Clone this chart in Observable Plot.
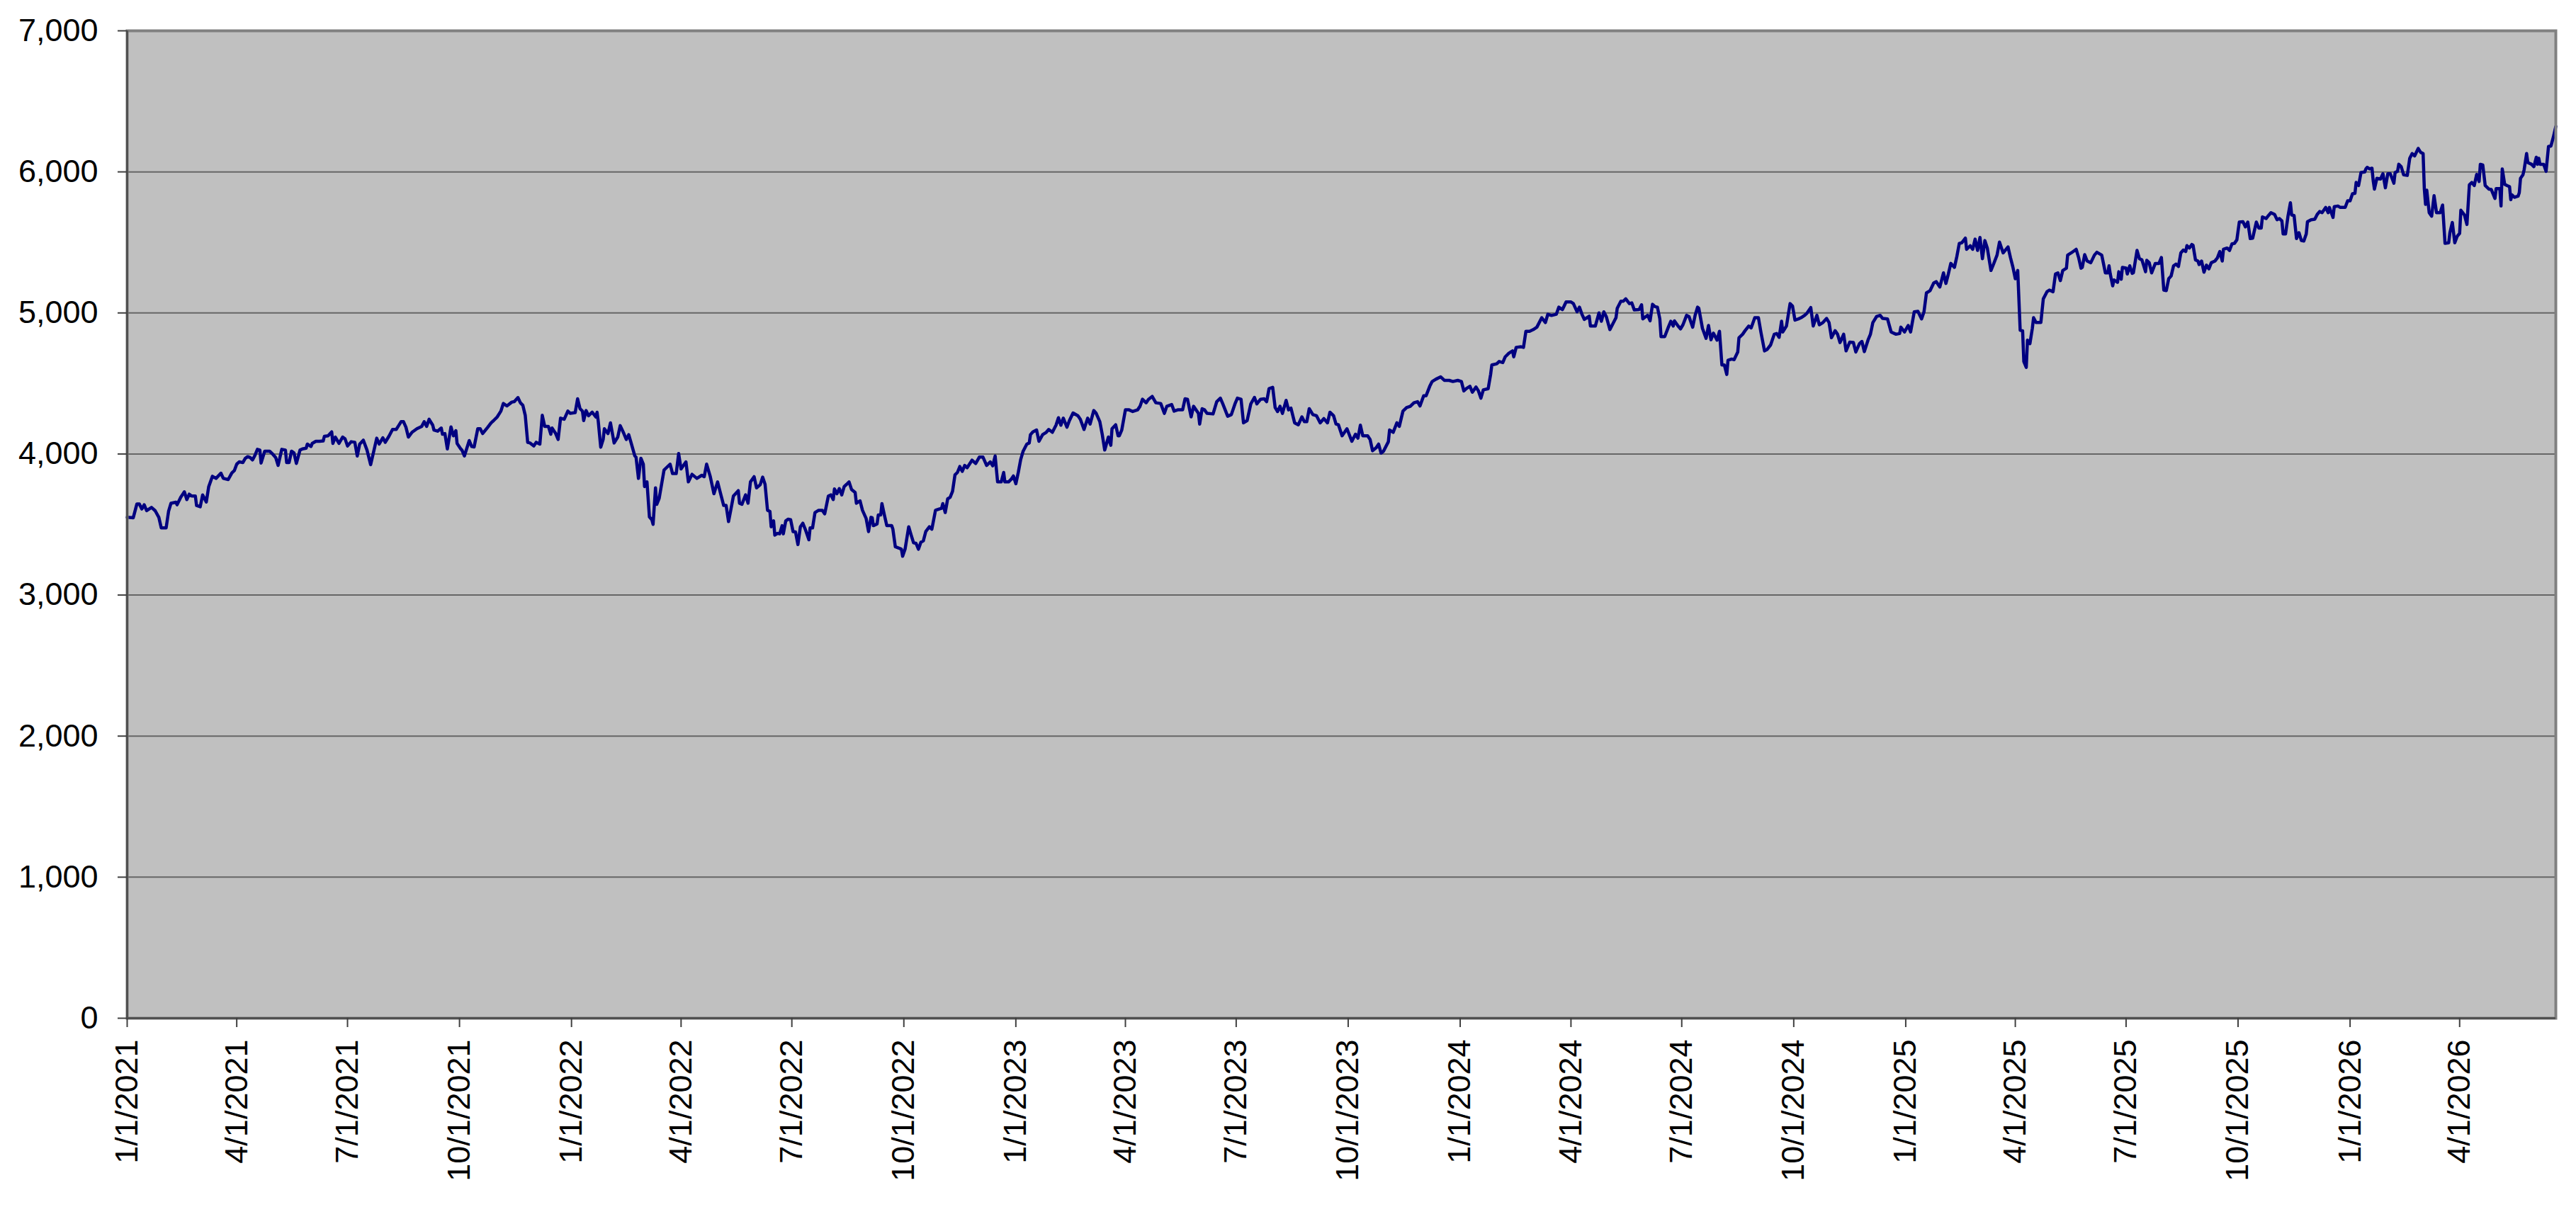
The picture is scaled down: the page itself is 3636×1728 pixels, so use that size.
<!DOCTYPE html>
<html>
<head>
<meta charset="utf-8">
<script src="https://cdn.jsdelivr.net/npm/d3@7"></script>
<script src="https://cdn.jsdelivr.net/npm/@observablehq/plot@0.6"></script>
<style>
  html, body { margin: 0; padding: 0; background: #ffffff; overflow: hidden; }
  #chart { width: 3636px; height: 1728px; }
</style>
</head>
<body>
<div id="chart"></div>
<script>
// ---- Data ----
const startDate = "2021-01-01";
const endDate = "2026-06-19";

// Days elapsed since 1/1/2021 for each sampled point
const daysSince2021 = [
0,5,8,10,12,14,16,20,23,26,28,32,34,36,40,41,44,47,49,51,53,56,57,60,62,65,67,70,73,77,79,83,86,88,90,92,95,97,99,101,103,105,107,109,110,113,117,120,122,124,127,130,131,133,135,137,139,142,144,147,148,151,152,155,158,161,162,165,168,169,171,174,177,179,181,184,187,189,191,194,197,200,203,205,207,210,212,215,218,221,223,225,227,229,231,234,238,242,244,246,248,251,252,255,258,259,261,263,266,268,270,271,274,275,277,281,283,285,288,290,292,296,299,301,304,307,309,312,316,318,321,323,325,327,329,331,334,336,339,341,343,346,348,349,352,354,356,359,362,364,368,370,372,374,375,377,379,382,385,386,387,389,391,392,395,397,400,
403,405,408,410,412,414,417,418,420,422,424,425,427,429,431,432,434,435,437,438,441,443,446,448,451,453,455,459,461,464,468,472,474,476,479,482,485,487,490,492,494,496,498,502,503,505,508,510,512,515,517,520,522,524,526,528,529,531,532,534,536,538,539,541,543,545,547,549,551,553,555,557,560,561,563,565,568,571,573,576,578,580,581,583,585,587,589,591,593,595,598,599,602,604,607,609,611,612,613,616,617,619,620,622,624,628,629,631,634,636,637,639,642,644,646,648,650,652,654,656,659,661,664,667,669,670,672,674,676,678,680,682,684,686,688,690,694,697,700,703,706,709,711,713,715,718,720,721,724,726,728,730,732,734,736,739,741,742,744,747,749,752,755,757,760,763,765,767,769,772,774,777,781,783,786,789,791,794,796,799,801,803,
806,808,809,812,814,815,817,820,823,826,830,832,834,837,839,842,845,849,852,854,858,860,863,867,869,871,874,876,880,881,883,885,887,892,895,898,900,904,907,910,912,915,917,920,923,926,928,931,934,936,938,941,943,945,947,949,952,954,956,959,962,965,967,969,971,974,977,980,983,986,988,991,993,995,998,1002,1006,1009,1011,1013,1015,1019,1021,1023,1026,1028,1030,1032,1036,1037,1040,1043,1045,1048,1051,1054,1057,1060,1062,1065,1067,1070,1072,1075,1079,1082,1086,1089,1093,1096,1098,1100,1103,1105,1108,1110,1112,1114,1118,1120,1121,1125,1127,1130,1132,1135,1138,1139,1141,1145,1147,1149,1152,1155,1158,1162,1165,1167,1170,1174,1176,1179,1182,1186,1188,1191,1193,1195,1197,1201,1202,1206,1209,1211,
1213,1215,1218,1220,1223,1224,1227,1229,1231,1234,1236,1238,1242,1244,1245,1247,1249,1251,1253,1255,1257,1259,1260,1263,1266,1268,1270,1271,1274,1276,1278,1281,1283,1286,1288,1290,1291,1294,1297,1299,1301,1303,1306,1308,1310,1312,1314,1315,1318,1320,1323,1324,1327,1329,1332,1334,1337,1340,1342,1345,1347,1350,1353,1355,1357,1359,1360,1363,1366,1368,1370,1373,1375,1378,1380,1383,1385,1388,1390,1393,1396,1398,1400,1403,1405,1407,1410,1412,1415,1418,1420,1423,1425,1427,1430,1432,1434,1437,1440,1442,1446,1449,1453,1456,1457,1460,1463,1465,1468,1471,1474,1476,1478,1481,1484,1486,1489,1490,1492,1494,1496,1498,1501,1503,1505,1507,1510,1511,1514,1516,1518,1520,1522,1524,1526,1528,1531,1533,1536,1538,1541,1545,1547,1549,1551,1553,1555,1557,1558,1560,1561,1563,1565,1566,1568,1572,1574,1577,1579,1582,1584,1586,1588,1590,1593,1594,1597,1601,1603,1605,1606,
1608,1610,1613,1616,1618,1622,1623,1625,1627,1628,1629,1631,1632,1635,1636,1638,1639,1642,1643,1645,1647,1648,1651,1653,1655,1658,1659,1661,1663,1666,1669,1671,1673,1675,1677,1679,1681,1683,1685,1687,1689,1691,1692,1694,1696,1697,1699,1701,1702,1704,1706,1708,1710,1712,1715,1717,1719,1721,1722,1725,1727,1729,1731,1733,1735,1738,1740,1742,1744,1746,1749,1751,1753,1754,1757,1759,1761,1764,1766,1768,1770,1771,1773,1775,1777,1778,1780,1782,1784,1786,1788,1790,1791,1794,1797,1799,1801,1803,1806,1808,1809,1812,1813,1816,1818,1822,1824,1826,1828,1830,1831,1833,1835,1838,1839,1840,1842,1844,1845,1846,1848,1851,1853,1855,1857,1859,1862,1863,1865,1866,1868,1870,1873,1875,1877,1879,1882,1884,1886,1887,1888,1889,1891,1893,1895,1897,1900,1902,1904,1907,1908,1910,1912,1914,1916,1917,1920,1922,1924,1926,1928,1930,1932,1933,1935,1937,1940,1942,1945,1946,1949,1950,1951,1953,1955,1957,1958,1959,1961,1964,1965,1966,1968,1969,1971,1972,1975,1977,1979,1980,1981,1982,1985,1987,1989,1991,1993,1995
];

// Index level at each sampled point
const indexValues = [
3551,3548,3646,3646,3610,3640,3598,3621,3598,3551,3476,3476,3593,3651,3658,3640,3693,3732,3677,3715,3702,3702,3635,3626,3710,3660,3769,3842,3827,3864,3827,3819,3866,3882,3928,3944,3939,3969,3981,3975,3958,3991,4033,4028,3936,4020,4020,3995,3975,3919,4033,4028,3939,3939,4020,4008,3933,4028,4036,4041,4070,4053,4075,4090,4090,4092,4125,4129,4157,4075,4120,4075,4120,4107,4057,4087,4083,3986,4070,4098,4028,3924,4036,4112,4070,4115,4083,4125,4174,4174,4201,4229,4229,4190,4120,4154,4179,4196,4229,4196,4246,4204,4170,4162,4184,4140,4145,4036,4192,4129,4165,4075,4036,4028,3986,4095,4053,4050,4179,4179,4145,4187,4221,4237,4263,4304,4358,4341,4368,4371,4400,4363,4346,4274,4082,4078,4057,4083,4070,4274,4196,4196,4140,4184,4145,4103,4254,4246,4304,4288,4293,4391,4321,4304,4237,4308,4271,4296,4262,4296,4229,4048,4103,4179,4145,4221,4078,
4120,4201,4145,4103,4137,4078,3986,3978,3827,3970,3928,3769,3802,3554,3534,3501,3760,3643,3685,3735,3886,3903,3928,3861,3861,4003,3894,3944,3802,3856,3827,3849,3839,3928,3839,3718,3802,3735,3635,3635,3521,3610,3702,3740,3651,3643,3710,3651,3802,3839,3760,3782,3836,3785,3601,3593,3484,3526,3425,3437,3434,3492,3434,3526,3538,3534,3450,3447,3358,3484,3509,3467,3392,3476,3476,3585,3601,3601,3576,3702,3710,3677,3752,3718,3755,3710,3769,3785,3802,3749,3727,3651,3668,3601,3543,3450,3551,3548,3492,3504,3568,3568,3648,3568,3492,3492,3467,3342,3333,3325,3275,3325,3484,3425,3370,3367,3325,3375,3384,3450,3484,3467,3601,3610,3615,3648,3585,3682,3693,3735,3852,3869,3911,3877,3919,3903,3956,3933,3978,3978,3919,3944,3916,3986,3802,3802,3869,3802,3802,3819,3844,3789,3869,3961,4020,4070,4078,4137,4157,4170,4090,4137,4154,4174,4154,4204,4257,4204,4254,4190,4237,4291,4271,4246,4174,4254,4212,4308,4288,4229,4137,4028,
4120,4062,4179,4207,4129,4129,4170,4313,4313,4301,4313,4338,4388,4363,4388,4408,4363,4358,4288,4338,4351,4304,4313,4313,4391,4388,4263,4338,4288,4212,4321,4313,4288,4284,4371,4396,4355,4268,4279,4355,4396,4388,4221,4237,4355,4401,4355,4388,4391,4371,4463,4472,4329,4301,4338,4288,4380,4313,4325,4221,4207,4263,4229,4229,4321,4279,4271,4221,4251,4221,4296,4271,4212,4207,4129,4179,4090,4140,4112,4204,4129,4129,4103,4023,4045,4070,4006,4020,4087,4170,4154,4221,4196,4304,4329,4338,4363,4371,4341,4413,4413,4480,4514,4530,4547,4522,4522,4514,4522,4514,4447,4463,4480,4438,4475,4447,4396,4455,4463,4564,4631,4639,4656,4648,4689,4715,4731,4689,4756,4760,4756,4870,4870,4882,4899,4966,4932,4991,4982,4991,5041,5024,5078,5078,5066,5008,5041,4991,4954,4977,4907,4907,5000,4941,
5008,4974,4882,4916,4966,5033,5083,5083,5100,5066,5071,5021,5024,5058,4958,4971,4983,4944,5061,5045,5041,4958,4832,4832,4899,4941,4907,4944,4907,4887,4916,4983,4974,4899,4983,5041,5033,4891,4820,4911,4810,4857,4807,4870,4631,4631,4564,4664,4673,4669,4723,4824,4849,4874,4907,4894,4966,4966,4865,4731,4740,4773,4849,4854,4827,4941,4865,4907,5066,5049,4949,4958,4966,4983,5000,5038,4907,4983,4916,4932,4961,4932,4824,4874,4849,4790,4849,4731,4793,4790,4723,4782,4798,4726,4807,4849,4932,4974,4983,4961,4958,4865,4849,4854,4899,4865,4911,4865,5008,5011,4958,5008,5142,5158,5212,5222,5184,5217,5284,5209,5276,5351,5323,5401,5493,5497,5530,5451,5476,5451,5523,5443,5535,5384,5513,5460,5301,5343,5410,5502,5426,5468,5393,5326,5242,5301,4877,4874,4656,4614,4807,4782,4891,4966,4932,4932,5100,5150,5162,5150,5276,5284,5229,5301,5317,5410,5426,5451,5393,5317,5323,
5413,5368,5356,5410,5430,5410,5368,5284,5284,5334,5276,5192,5234,5217,5292,5239,5323,5318,5276,5334,5281,5284,5443,5384,5376,5292,5373,5356,5284,5351,5351,5393,5162,5158,5242,5262,5334,5346,5329,5426,5446,5435,5477,5460,5485,5480,5376,5368,5343,5368,5289,5339,5312,5356,5368,5390,5435,5368,5451,5460,5443,5490,5493,5518,5644,5647,5610,5644,5527,5530,5644,5602,5602,5681,5669,5691,5711,5698,5661,5669,5652,5560,5560,5686,5781,5694,5691,5527,5569,5513,5510,5560,5647,5661,5664,5698,5719,5711,5748,5711,5748,5677,5753,5758,5748,5748,5795,5795,5845,5848,5925,5903,5996,5999,6021,6032,6021,6026,5937,5878,5954,5949,5987,5887,5987,5987,5920,5996,6004,6054,6037,5979,5975,6096,6130,6113,6166,6138,6130,5878,5770,5870,5711,5686,5831,5711,5711,5765,5493,5497,5569,5641,5497,5544,5564,5728,5694,5627,5908,5925,5903,5982,5932,6054,6049,5903,5878,5875,5811,5882,5882,5758,6021,5912,5903,5895,5803,5837,5820,5828,5853,5954,5979,6016,6130,6066,6054,6037,6104,6054,6096,6054,6054,6004,6180,6183,6247,6322
];

// Axis ticks
const yTicks = [0, 1000, 2000, 3000, 4000, 5000, 6000, 7000];
const xTickLabels = [
  "1/1/2021","4/1/2021","7/1/2021","10/1/2021",
  "1/1/2022","4/1/2022","7/1/2022","10/1/2022",
  "1/1/2023","4/1/2023","7/1/2023","10/1/2023",
  "1/1/2024","4/1/2024","7/1/2024","10/1/2024",
  "1/1/2025","4/1/2025","7/1/2025","10/1/2025",
  "1/1/2026","4/1/2026"
];

// ---- Build ----
const DAY = 86400000;
const t0 = new Date(startDate + "T00:00:00Z");
const tEnd = new Date(endDate + "T00:00:00Z");
const parseMDY = s => { const [m, d, y] = s.split("/").map(Number); return new Date(Date.UTC(y, m - 1, d)); };
const dates = daysSince2021.map(d => new Date(t0.getTime() + d * DAY));
const xTickDates = xTickLabels.map(parseMDY);
const labelByTime = new Map(xTickDates.map((d, i) => [d.getTime(), xTickLabels[i]]));

const chart = Plot.plot({
  width: 3636,
  height: 1728,
  marginLeft: 179,
  marginRight: 29,
  marginTop: 43,
  marginBottom: 291,
  style: {
    fontFamily: "'Liberation Sans', Arial, sans-serif",
    fontSize: "45px",
    background: "#ffffff",
    color: "#000000"
  },
  x: { type: "utc", domain: [t0, tEnd], label: null },
  y: { domain: [0, 7000], label: null },
  marks: [
    Plot.frame({ fill: "#C0C0C0", stroke: null }),
    Plot.gridY(yTicks, { stroke: "#666666", strokeOpacity: 1, strokeWidth: 2 }),
    Plot.line(indexValues, {
      x: dates,
      y: indexValues,
      stroke: "#000080",
      strokeWidth: 4.5,
      strokeLinejoin: "round"
    }),
    Plot.frame({ stroke: "#808080", strokeWidth: 4 }),
    Plot.ruleX([t0], { stroke: "#505050", strokeWidth: 3 }),
    Plot.ruleY([0], { stroke: "#505050", strokeWidth: 3 }),
    Plot.axisY(yTicks, {
      tickSize: 13,
      tickPadding: 28,
      tickFormat: d3.format(","),
      fontSize: 45,
      stroke: "#404040",
      strokeWidth: 2,
      fill: "#000000",
      label: null
    }),
    Plot.axisX(xTickDates, {
      tickSize: 13,
      tickRotate: -90,
      tickPadding: 17,
      tickFormat: d => labelByTime.get(d.getTime()),
      fontSize: 45,
      stroke: "#404040",
      strokeWidth: 2,
      fill: "#000000",
      label: null
    })
  ]
});
document.getElementById("chart").appendChild(chart);
</script>
</body>
</html>
